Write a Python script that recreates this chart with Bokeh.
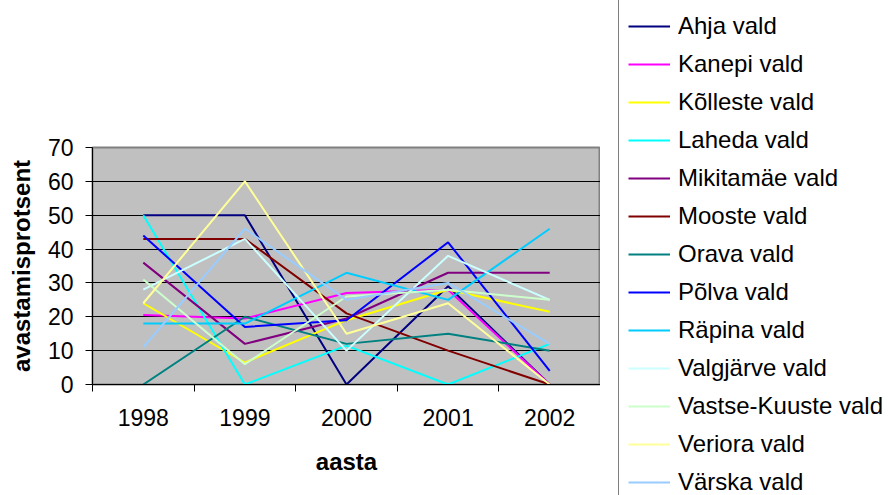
from bokeh.plotting import figure
from bokeh.models import Range1d, FixedTicker, Legend, LegendItem
from bokeh.embed import file_html
from bokeh.resources import INLINE

years = ["1998", "1999", "2000", "2001", "2002"]
yticks = [0, 10, 20, 30, 40, 50, 60, 70]

names = ["Ahja vald", "Kanepi vald", "Kõlleste vald", "Laheda vald", "Mikitamäe vald",
         "Mooste vald", "Orava vald", "Põlva vald", "Räpina vald", "Valgjärve vald",
         "Vastse-Kuuste vald", "Veriora vald", "Värska vald"]
colors = ["#000080", "#FF00FF", "#FFFF00", "#00FFFF", "#800080",
          "#800000", "#008080", "#0000FF", "#00CCFF", "#CCFFFF",
          "#CCFFCC", "#FFFF99", "#99CCFF"]

ahja = [50, 50, 0, 29, 0]
kanepi = [20.5, 19.5, 27, 28, 0]
kolleste = [24, 6.5, 19, 28, 21.5]
laheda = [50, 0, 11.5, 0, 12]
mikitamae = [36, 12, 19.5, 33, 33]
mooste = [43, 43, 21, 10, 0]
orava = [0, 20, 12, 15, 10]
polva = [44, 17, 19, 42, 4]
rapina = [18, 18, 33, 25, 46]
valgjarve = [28, 43, 10, 38, 25]
vastse_kuuste = [31, 6, 26, 28, 25]
veriora = [24, 60, 15, 24, 0]
varska = [11, 46, 25, 30, 12]

series = [ahja, kanepi, kolleste, laheda, mikitamae, mooste, orava,
          polva, rapina, valgjarve, vastse_kuuste, veriora, varska]

FONT = "Liberation Sans"

xs = [i + 0.5 for i in range(len(years))]

p = figure(width=600, height=495, output_backend="svg", toolbar_location=None,
           x_range=Range1d(0, len(years)), y_range=Range1d(yticks[0], yticks[-1]),
           min_border_left=92, min_border_right=0, min_border_top=147, min_border_bottom=111,
           background_fill_color="#C0C0C0", border_fill_color="white",
           outline_line_color="#808080", outline_line_width=2)
p.styles = {"position": "absolute", "left": "0px", "top": "0px"}

for col, vals in zip(colors, series):
    p.line(xs, vals, line_color=col, line_width=2)

# x axis
xa = p.xaxis[0]
xa.ticker = FixedTicker(ticks=xs, minor_ticks=list(range(len(years) + 1)))
xa.major_label_overrides = {x: y for x, y in zip(xs, years)}
xa.major_tick_line_color = None
xa.major_tick_out = 7
xa.major_tick_in = 0
xa.minor_tick_out = 7
xa.minor_tick_in = 0
xa.minor_tick_line_color = "black"
xa.major_label_standoff = 17
xa.major_label_text_font = FONT
xa.major_label_text_font_size = "23px"
xa.major_label_text_color = "black"
xa.axis_line_color = "black"
xa.axis_label = "aasta"
xa.axis_label_text_font = FONT
xa.axis_label_text_font_size = "24px"
xa.axis_label_text_font_style = "bold"
xa.axis_label_text_color = "black"
xa.axis_label_standoff = 19

# y axis
ya = p.yaxis[0]
ya.ticker = FixedTicker(ticks=yticks)
ya.major_tick_out = 7
ya.major_tick_in = 0
ya.minor_tick_line_color = None
ya.major_tick_line_color = "black"
ya.major_label_standoff = 12
ya.major_label_text_font = FONT
ya.major_label_text_font_size = "23px"
ya.major_label_text_color = "black"
ya.axis_line_color = "black"
ya.axis_label = "avastamisprotsent"
ya.axis_label_text_font = FONT
ya.axis_label_text_font_size = "24px"
ya.axis_label_text_font_style = "bold"
ya.axis_label_text_color = "black"
ya.axis_label_standoff = 10

p.xgrid.visible = False
p.ygrid.ticker = FixedTicker(ticks=yticks[1:-1])
p.ygrid.grid_line_color = "black"
p.ygrid.grid_line_width = 1

# legend panel: same series drawn in a second figure whose view range excludes them
p2 = figure(width=288, height=495, output_backend="svg", toolbar_location=None,
            x_range=Range1d(100, 101), y_range=Range1d(100, 101),
            min_border_left=0, min_border_right=0, min_border_top=0, min_border_bottom=0,
            x_axis_location=None, y_axis_location=None,
            background_fill_color="white", border_fill_color="white",
            outline_line_color=None)
p2.grid.visible = False
p2.styles = {"position": "absolute", "left": "600px", "top": "0px"}

items = []
for name, col, vals in zip(names, colors, series):
    r = p2.line(xs, vals, line_color=col, line_width=2)
    items.append(LegendItem(label=name, renderers=[r]))

legend = Legend(items=items, location=(18, -16),
                label_text_font=FONT, label_text_font_size="24px", label_text_color="black",
                glyph_width=42, glyph_height=38, label_height=38, spacing=0,
                label_standoff=8, padding=9, margin=0,
                border_line_color="black", border_line_width=1,
                background_fill_color="white", background_fill_alpha=1)
p2.add_layout(legend, "center")

open("out.html", "w").write(file_html([p, p2], INLINE))
